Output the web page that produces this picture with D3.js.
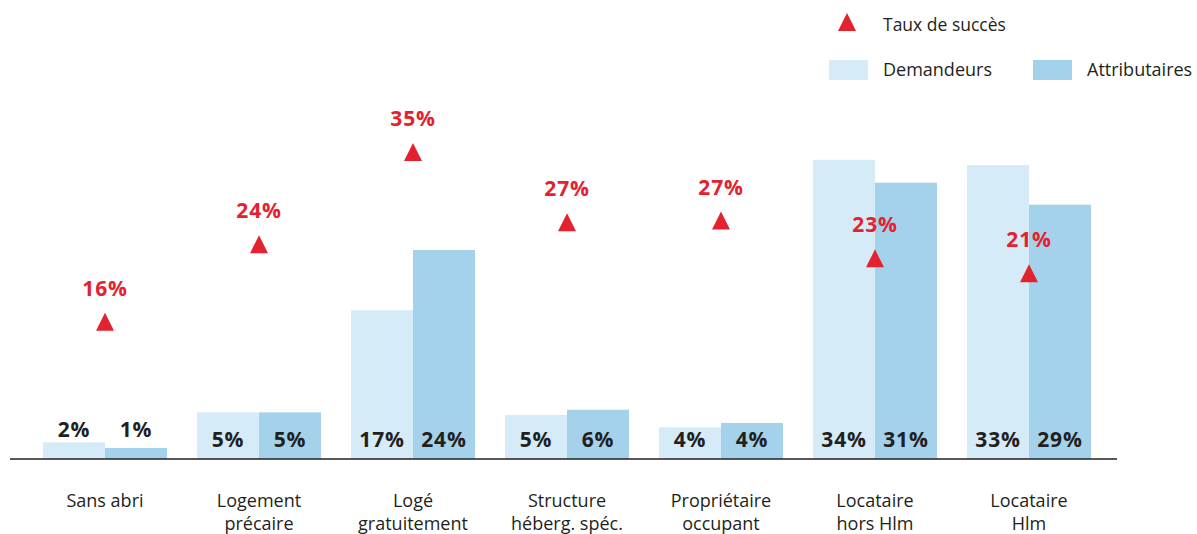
<!DOCTYPE html>
<html>
<head>
<meta charset="utf-8">
<script src="https://cdn.jsdelivr.net/npm/d3@7"></script>
<style>
  body { margin: 0; background: #fff; }
  svg { display: block; font-family: 'Open Sans', sans-serif; }
</style>
</head>
<body>
<svg id="chart" width="1197" height="534"></svg>
<script>
// categories (line breaks as in the picture)
const categories = [
  ["Sans abri"],
  ["Logement", "précaire"],
  ["Logé", "gratuitement"],
  ["Structure", "héberg. spéc."],
  ["Propriétaire", "occupant"],
  ["Locataire", "hors Hlm"],
  ["Locataire", "Hlm"]
];
const series = ["Demandeurs", "Attributaires"];
const demandeurs = [1.9, 5.3, 16.9, 5.0, 3.6, 34.0, 33.4];
const attributaires = [1.25, 5.3, 23.75, 5.6, 4.1, 31.4, 28.9];
const tauxSucces = [15.6, 24.4, 34.9, 26.9, 27.1, 22.8, 21.1];

const colors = { Demandeurs: "#d6ebf8", Attributaires: "#a5d2eb" };
const red = "#e3222f";
const dark = "#231f20";

const svg = d3.select("#chart");
const baseY = 459;

const keys = categories.map(c => c.join(" "));
const x0 = d3.scaleBand()
  .domain(keys)
  .range([28, 1106])
  .paddingInner(0.195)
  .paddingOuter(0.0975);
const x1 = d3.scaleBand()
  .domain(series)
  .range([0, x0.bandwidth()]);
const y = d3.scaleLinear()
  .domain([0, 40])
  .range([baseY, baseY - 352]);

const rows = keys.map((k, i) => ({
  key: k,
  lines: categories[i],
  vals: [
    { s: "Demandeurs", v: demandeurs[i] },
    { s: "Attributaires", v: attributaires[i] }
  ],
  taux: tauxSucces[i]
}));

const fmt = v => Math.round(v) + "%";

// bars
const g = svg.append("g")
  .selectAll("g")
  .data(rows)
  .join("g")
  .attr("transform", d => `translate(${x0(d.key)},0)`);

g.selectAll("rect")
  .data(d => d.vals)
  .join("rect")
  .attr("x", d => x1(d.s))
  .attr("y", d => y(d.v))
  .attr("width", x1.bandwidth())
  .attr("height", d => baseY - y(d.v))
  .attr("fill", d => colors[d.s]);

// bar labels: inside the bar, or above the group when the bars are too short
g.each(function (d) {
  const top = y(d3.max(d.vals, e => e.v));
  const ly = (baseY - top) < 30 ? top - 5 : baseY - 12;
  d3.select(this).selectAll("text.val")
    .data(d.vals)
    .join("text")
    .attr("class", "val")
    .attr("x", e => x1(e.s) + x1.bandwidth() / 2)
    .attr("y", ly)
    .attr("text-anchor", "middle")
    .style("font-size", "21px")
    .style("font-weight", 700)
    .style("letter-spacing", "0.8px")
    .style("fill", dark)
    .text(e => fmt(e.v));
});

// axis line
svg.append("line")
  .attr("x1", 10).attr("x2", 1117)
  .attr("y1", baseY).attr("y2", baseY)
  .attr("stroke", dark)
  .attr("stroke-width", 1.5);

// category labels
svg.append("g")
  .selectAll("text")
  .data(rows)
  .join("text")
  .attr("x", d => x0(d.key) + x0.bandwidth() / 2)
  .attr("y", 507)
  .attr("text-anchor", "middle")
  .style("font-size", "18px")
  .style("fill", dark)
  .selectAll("tspan")
  .data(d => d.lines)
  .join("tspan")
  .attr("x", function () { return d3.select(this.parentNode).attr("x"); })
  .attr("dy", (d, i) => i === 0 ? 0 : 23)
  .text(d => d);

// taux de succès triangles
const tri = "M0,-9L9,9L-9,9Z";
const t = svg.append("g")
  .selectAll("g")
  .data(rows)
  .join("g")
  .attr("transform", d => `translate(${x0(d.key) + x0.bandwidth() / 2},${y(d.taux)})`);

t.append("path")
  .attr("d", tri)
  .attr("fill", red);

t.append("text")
  .attr("y", -26)
  .attr("text-anchor", "middle")
  .style("font-size", "21px")
  .style("font-weight", 700)
  .style("letter-spacing", "0.8px")
  .style("fill", red)
  .text(d => fmt(d.taux));

// legend
const leg = svg.append("g");
leg.append("path")
  .attr("d", tri)
  .attr("transform", "translate(847,22)")
  .attr("fill", red);
leg.append("text")
  .attr("x", 883).attr("y", 31)
  .style("font-size", "17.5px")
  .style("fill", dark)
  .text("Taux de succès");

const legItems = [
  { s: "Demandeurs", x: 829 },
  { s: "Attributaires", x: 1033 }
];
leg.selectAll("rect")
  .data(legItems)
  .join("rect")
  .attr("x", d => d.x)
  .attr("y", 60)
  .attr("width", 39)
  .attr("height", 20)
  .attr("fill", d => colors[d.s]);
leg.selectAll("text.item")
  .data(legItems)
  .join("text")
  .attr("class", "item")
  .attr("x", d => d.x + 54)
  .attr("y", 76)
  .style("font-size", "18px")
  .style("fill", dark)
  .text(d => d.s);
</script>
</body>
</html>
